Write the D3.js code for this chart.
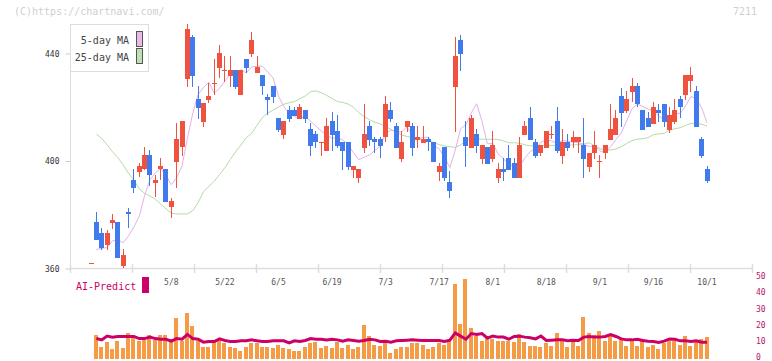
<!DOCTYPE html>
<html><head><meta charset="utf-8">
<script src="https://cdn.jsdelivr.net/npm/d3@7"></script>
<style>
html,body{margin:0;padding:0;background:#fff;}
svg{display:block;}
text{font-family:"DejaVu Sans Mono",monospace;}
</style></head>
<body>
<svg id="c" width="772" height="361"></svg>
<script>
// ---- data (index 1..116, trading days 2025/4/14 .. 10/1) ----
const opens = [362,377.4,373.1,368.8,377.1,377.4,360.9,381.0,392.8,396.0,396.9,402.2,392.0,396.9,397.0,383.0,399.7,405.1,430.6,446.1,423.1,414.6,422.7,428.9,434.7,433.6,431.6,433.9,424.7,438.0,439.8,432.9,432.0,424.0,427.9,415.9,409.7,419.0,419.0,415.6,419.0,411.9,410.0,406.8,403.8,414.9,411.2,407.0,407.0,396.8,393.8,405.0,413.0,408.2,408.2,408.8,419.0,413.0,400.9,412.8,413.0,407.8,406.8,408.2,407.0,396.0,405.1,392.1,427.7,445.0,409.1,405.0,410.0,400.9,405.3,400.9,393.8,397.0,401.2,399.1,393.8,409.7,416.0,407.2,402.9,405.0,409.7,414.9,402.0,407.0,407.0,407.0,406.0,397.9,402.9,399.6,402.9,407.8,409.7,424.2,418.7,425.8,428.0,419.0,416.0,413.9,419.0,421.2,411.5,414.6,423.1,424.7,429.9,426.1,408.2,397.0];
const highs = [362,381.2,374.9,374.3,380.3,377.4,367.1,382.4,397.0,399.4,405.2,404.1,394.7,401.2,397.0,386.1,414.3,414.9,451.0,447.0,428.0,421.5,428.9,437.8,443.3,439.1,439.1,433.9,433.9,438.0,448.1,439.1,432.0,424.8,427.9,415.9,414.9,420.5,420.0,421.1,419.0,414.0,411.2,407.1,415.9,418.2,417.1,407.0,407.0,398.3,397.0,421.2,414.9,409.1,409.1,424.2,422.0,414.0,411.2,414.9,414.0,413.0,413.0,409.1,407.0,399.1,405.1,396.3,446.1,447.0,414.9,417.1,411.9,406.0,405.3,411.2,399.1,401.2,406.0,401.2,409.1,414.9,420.1,408.2,406.0,411.2,413.0,420.1,411.9,410.0,411.2,409.1,416.0,402.9,411.2,402.2,406.0,421.2,419.0,427.2,426.2,430.9,429.0,419.0,418.2,422.0,421.2,421.2,420.1,423.1,424.2,432.0,435.1,428.0,409.1,398.3];
const lows = [362,370.6,366.9,366.9,374.7,364.0,360.1,374.9,388.0,394.2,396.7,390.8,386.7,392.9,384.9,378.9,389.8,401.9,427.7,427.7,415.6,412.8,421.5,424.6,430.8,429.5,427.7,426.8,424.7,432.6,438.6,432.6,424.7,417.1,421.5,410.7,408.1,414.6,416.9,415.6,414.0,402.0,405.0,402.0,403.8,403.8,404.7,396.8,396.8,393.8,392.0,402.9,405.7,402.9,401.0,407.0,414.6,405.0,399.8,410.9,402.0,405.0,406.8,403.8,399.8,392.7,392.7,386.1,410.9,433.6,397.9,405.0,402.9,398.9,398.9,399.8,392.0,392.7,396.8,393.8,393.8,409.7,407.8,401.0,402.0,405.0,408.2,402.9,398.9,403.8,405.0,402.9,393.8,396.0,400.9,393.8,400.9,407.8,409.7,412.8,418.0,422.1,420.0,411.5,412.8,413.9,414.6,412.8,410.3,413.9,415.9,422.6,425.8,412.8,401.1,392.0];
const closes = [362,370.6,367.8,373.1,378.0,364.0,365.0,380.2,389.8,398.1,402.2,394.8,392.9,398.1,384.9,385.1,408.1,414.9,449.1,431.8,419.9,421.5,424.2,429.2,440.2,433.9,433.9,427.7,433.9,434.7,445.0,435.0,427.8,422.8,424.0,411.5,414.9,415.6,416.9,420.0,415.6,405.7,406.9,407.1,413.0,409.7,405.7,403.8,397.9,398.3,397.0,410.0,407.8,407.0,405.7,421.2,415.6,405.0,407.0,414.9,405.0,409.1,408.2,407.0,399.8,398.3,393.8,389.0,439.1,440.0,405.7,415.9,405.7,406.0,398.9,406.0,397.0,396.0,396.8,393.8,406.0,413.0,407.8,402.0,406.0,411.2,410.0,403.8,407.0,405.0,409.1,409.1,400.9,402.9,406.0,399.9,406.0,411.9,416.0,418.0,423.1,428.0,421.1,411.5,412.8,420.1,418.0,414.6,417.1,419.0,420.0,432.0,432.0,412.8,402.0,392.7];
const ma5 = [null,367.1,367.5,367.8,370.3,370.7,369.6,372.1,375.4,379.4,387.1,393.0,395.6,397.2,394.6,391.2,393.8,398.2,408.4,417.8,424.8,427.4,429.3,425.3,427.0,429.8,432.3,433.0,433.9,432.8,435.0,435.3,435.3,433.1,430.9,424.2,420.2,417.8,416.6,415.8,416.6,414.8,413.0,411.1,409.7,408.5,408.5,407.9,406.0,403.1,400.5,401.4,402.2,404.0,405.5,410.3,411.5,410.9,410.9,412.7,409.5,408.2,408.8,408.8,405.8,404.5,401.4,397.6,404.0,412.0,413.5,417.9,421.3,414.7,406.4,406.5,402.7,400.8,398.9,397.9,397.9,401.1,403.5,404.5,407.0,408.0,407.4,406.6,407.6,407.4,407.0,406.8,406.2,405.4,405.6,403.8,403.1,405.3,408.0,410.4,415.0,419.4,421.2,420.3,419.3,418.7,416.7,415.4,416.5,417.8,417.7,420.5,424.0,423.2,419.8,414.3];
const ma25 = [null,410.0,408.4,406.0,403.5,401.3,398.6,395.5,392.8,389.6,388.0,387.0,385.8,384.0,382.2,380.6,380.3,380.3,380.3,381.5,384.5,388.6,390.5,392.5,395.0,397.5,400.5,403.5,406.0,408.7,410.3,413.3,416.2,417.8,419.0,420.1,421.1,421.7,422.1,423.2,424.2,425.8,426.1,425.4,424.4,423.3,422.1,421.8,421.2,420.0,418.0,416.5,415.3,414.5,413.8,412.9,411.8,410.7,409.7,409.1,408.8,408.4,407.8,407.5,406.8,406.1,405.6,405.3,405.1,406.0,407.5,408.1,408.1,408.1,408.1,408.1,408.0,407.5,406.8,406.8,406.6,406.0,405.7,405.6,405.7,405.8,405.8,405.8,405.8,405.8,406.0,406.1,406.3,406.8,405.6,404.6,404.1,404.1,404.5,405.3,406.5,407.6,408.1,408.3,408.7,409.8,410.1,410.3,411.5,412.0,412.4,413.2,414.0,414.0,413.7,413.0];
const volumes = [null,14.2,7.4,10.1,5.6,10.5,6.2,16.0,12.6,10.7,11.5,14.8,11.7,14.2,14.2,12.1,24.7,10.5,27.8,19.8,10.5,7.4,7.4,10.1,11.5,9.5,6.8,6.2,4.9,7.4,9.3,9.3,6.8,7.4,6.2,8.6,6.2,5.6,4.5,4.9,6.8,9.7,10.0,6.2,8.0,6.2,9.9,6.2,8.6,5.6,6.8,20.4,13.6,8.6,8.0,9.9,3.7,5.6,6.8,7.4,9.3,9.3,8.6,5.6,7.4,9.3,8.6,10.5,45.7,21.6,48.8,19.1,13.6,10.5,13.6,12.3,11.1,11.1,11.1,9.9,15.4,9.9,8.0,8.0,7.4,9.3,8.0,16.0,11.1,7.4,9.9,8.0,25.9,16.0,14.2,16.7,10.5,14.2,10.5,12.3,8.0,10.5,8.0,12.3,7.4,8.6,5.6,9.3,11.1,11.1,8.6,13.6,8.0,9.9,12.3,13.0];
const aiPredict = [null,12.3,11.5,13.9,13.2,13.6,13.6,13.6,13.6,12.3,12.3,13.2,12.3,11.9,11.9,10.7,12.3,11.9,14.9,12.3,11.9,10.1,10.5,10.5,12.1,11.1,10.5,10.5,10.9,10.9,11.5,10.9,10.5,10.5,10.9,10.9,10.9,9.6,10.9,10.5,11.1,12.3,11.9,11.9,11.5,11.9,11.5,10.7,11.5,11.1,10.7,11.1,11.9,11.5,10.5,10.7,10.1,10.9,11.1,11.3,11.5,11.3,11.1,11.1,11.1,11.1,10.5,11.3,15.8,13.8,11.9,15.4,14.8,15.4,12.6,13.9,13.2,13.2,11.9,13.6,13.8,13.2,12.8,12.1,13.9,11.1,11.3,11.5,11.5,10.9,11.3,11.1,13.2,13.6,13.2,13.2,13.6,14.8,13.6,12.1,11.5,11.5,11.9,11.1,10.7,10.5,9.9,10.7,12.1,11.9,10.9,10.9,10.5,10.9,10.1,10.1];
const dateLabels = ["5/8","5/22","6/5","6/19","7/3","7/17","8/1","8/18","9/1","9/16","10/1"];
const dateIndex = [16,26,36,46,56,66,76,86,96,106,116];
const priceTicks = [360,400,440];
const volumeTicks = [0,10,20,30,40,50];

// ---- drawing ----
const svg = d3.select("#c");
svg.append("rect").attr("width",772).attr("height",361).attr("fill","#fff");

const idx = d3.range(1, opens.length + 1);
const x = d3.scaleLinear().domain([1,116]).range([91,707]);
const y = d3.scaleLinear().domain([360,440]).range([268.5,53.5]);
const yv = d3.scaleLinear().domain([0,50]).range([358.5,277.5]);
const gridX = d3.scaleLinear().domain([0,11]).range([70,752]);

const RED = "#ef5340", BLUE = "#417aec";

// header texts
svg.append("text").attr("x",14).attr("y",15).attr("font-size",10).attr("fill","#cfcfcf").text("(C)https://chartnavi.com/");
svg.append("text").attr("x",757).attr("y",15).attr("text-anchor","end").attr("font-size",10).attr("fill","#cfcfcf").text("7211");

// axes frame
svg.append("line").attr("x1",70.5).attr("x2",70.5).attr("y1",24).attr("y2",268).attr("stroke","#ddd");
svg.append("line").attr("x1",70).attr("x2",752).attr("y1",268.5).attr("y2",268.5).attr("stroke","#ddd").attr("stroke-width",1.5);
svg.append("g").selectAll("line").data(d3.range(0,12)).join("line")
  .attr("x1",d=>Math.round(gridX(d))+0.5).attr("x2",d=>Math.round(gridX(d))+0.5)
  .attr("y1",264).attr("y2",273).attr("stroke","#ddd").attr("stroke-width",1.5);

// price axis
const yAxis = d3.axisLeft(y).tickValues(priceTicks).tickSize(5).tickPadding(6);
const gy = svg.append("g").attr("transform","translate(70.5,0)").call(yAxis);
gy.select(".domain").remove();
gy.selectAll(".tick line").attr("stroke","#ccc");
gy.selectAll(".tick text").attr("font-family","DejaVu Sans Mono, monospace").attr("font-size",8).attr("fill","#333");

// date labels
svg.append("g").selectAll("text").data(dateLabels).join("text")
  .attr("x",(d,k)=>x(dateIndex[k])).attr("y",285).attr("text-anchor","middle")
  .attr("font-size",8).attr("fill","#555").text(d=>d);

// MA lines
const line = d3.line().defined(d=>d[1]!=null).x(d=>x(d[0])).y(d=>y(d[1]));
svg.append("path").datum(idx.map(i=>[i,ma25[i-1]])).attr("d",line)
  .attr("fill","none").attr("stroke","#b4dca8").attr("stroke-width",1);
svg.append("path").datum(idx.map(i=>[i,ma5[i-1]])).attr("d",line)
  .attr("fill","none").attr("stroke","#e6b0e6").attr("stroke-width",1);

// candles
const cg = svg.append("g").attr("shape-rendering","crispEdges");
idx.forEach(i=>{
  const o=opens[i-1], h=highs[i-1], l=lows[i-1], c=closes[i-1];
  const col = c >= o ? RED : BLUE;
  const cx = Math.floor(x(i));
  cg.append("rect").attr("x",cx).attr("width",1)
    .attr("y",Math.round(y(h))).attr("height",Math.max(1,Math.round(y(l))-Math.round(y(h))))
    .attr("fill",col);
  const top = Math.round(y(Math.max(o,c))), bot = Math.round(y(Math.min(o,c)));
  cg.append("rect").attr("x",cx-2).attr("width",5)
    .attr("y",top).attr("height",Math.max(1,bot-top)).attr("fill",col);
});

// legend
const lg = svg.append("g");
lg.append("rect").attr("x",70.5).attr("y",24.5).attr("width",78).attr("height",47)
  .attr("fill","#fff").attr("stroke","#ddd");
lg.append("text").attr("x",129).attr("y",44).attr("text-anchor","end").attr("font-size",10).attr("fill","#444").text("5-day MA");
lg.append("text").attr("x",129).attr("y",61).attr("text-anchor","end").attr("font-size",10).attr("fill","#444").text("25-day MA");
lg.append("rect").attr("x",136.5).attr("y",31.5).attr("width",6).attr("height",15).attr("fill","#ebb8eb").attr("stroke","#555");
lg.append("rect").attr("x",136.5).attr("y",48.5).attr("width",6).attr("height",15).attr("fill","#bde0b4").attr("stroke","#555");

// volume bars
svg.append("g").attr("shape-rendering","crispEdges").selectAll("rect")
  .data(idx.filter(i=>volumes[i-1]!=null)).join("rect")
  .attr("x",i=>Math.floor(x(i))-2).attr("width",4)
  .attr("y",i=>yv(volumes[i-1])).attr("height",i=>yv(0)-yv(volumes[i-1]))
  .attr("fill","#f59b46");

// AI predict line
const aline = d3.line().defined(d=>d[1]!=null).x(d=>x(d[0])).y(d=>yv(d[1]));
svg.append("path").datum(idx.map(i=>[i,aiPredict[i-1]])).attr("d",aline)
  .attr("fill","none").attr("stroke","#cc0066").attr("stroke-width",3);

// volume axis
const vAxis = d3.axisRight(yv).tickValues(volumeTicks).tickSize(0).tickPadding(0);
const gv = svg.append("g").attr("transform","translate(756,0)").call(vAxis);
gv.select(".domain").remove();
gv.selectAll(".tick text").attr("font-family","DejaVu Sans Mono, monospace").attr("font-size",8)
  .attr("fill","#b8146a").attr("dy","0.15em");

// AI-Predict legend
svg.append("text").attr("x",76).attr("y",290).attr("font-size",10).attr("fill","#cc0066").text("AI-Predict");
svg.append("rect").attr("x",142).attr("y",277).attr("width",7).attr("height",16).attr("fill","#cc0066");
</script>
</body></html>
